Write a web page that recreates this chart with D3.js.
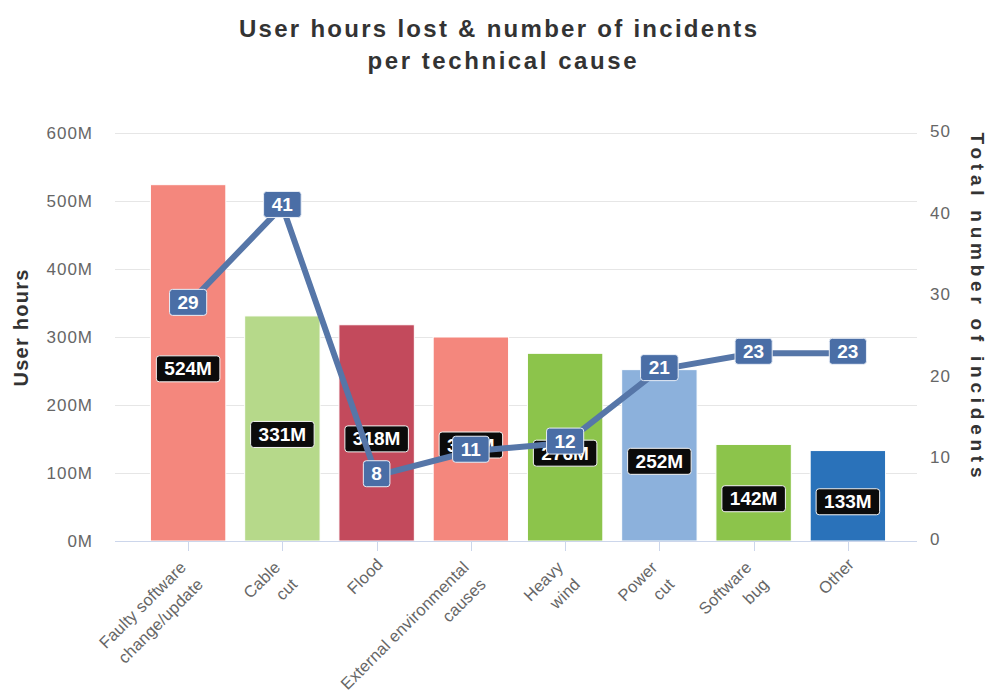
<!DOCTYPE html>
<html>
<head>
<meta charset="utf-8">
<script src="https://cdn.jsdelivr.net/npm/d3@7/dist/d3.min.js"></script>
<style>
  html, body { margin: 0; padding: 0; background: #ffffff; }
  svg { display: block; font-family: "Liberation Sans", Arial, Helvetica, sans-serif; }
</style>
</head>
<body>
<svg id="chart" width="989" height="695"></svg>
<script>
// Technical causes, one array entry per bar (label lines for the x axis)
const categories = [
  ["Faulty software", "change/update"],
  ["Cable", "cut"],
  ["Flood"],
  ["External environmental", "causes"],
  ["Heavy", "wind"],
  ["Power", "cut"],
  ["Software", "bug"],
  ["Other"]
];
// User hours lost, in millions
const userHours = [524, 331, 318, 300, 276, 252, 142, 133];
// Total number of incidents
const incidents = [29, 41, 8, 11, 12, 21, 23, 23];
// Bar fills
const barColors = ["#f4877d", "#b6d98a", "#c34a5c", "#f4877d", "#8cc44b", "#8cb1dc", "#8cc44b", "#2a72ba"];
// Axis ticks
const leftTicks = [0, 100, 200, 300, 400, 500, 600];
const rightTicks = [0, 10, 20, 30, 40, 50];

const svg = d3.select("#chart");

const plot = { left: 115, right: 917, top: 133, bottom: 541 };
const band = { left: 141, right: 895 };

const x = d3.scaleBand()
  .domain(d3.range(categories.length))
  .range([band.left, band.right])
  .paddingInner(0.2)
  .paddingOuter(0.1);

const yLeft = d3.scaleLinear().domain([0, 600]).range([plot.bottom, plot.top]);
const yRight = d3.scaleLinear().domain([0, 50]).range([plot.bottom, plot.top]);

// Title
const title = svg.append("g").attr("fill", "#333333").attr("font-weight", "bold").attr("font-size", 24);
title.append("text").attr("x", 498).attr("y", 37).attr("text-anchor", "middle")
  .attr("textLength", 518).attr("lengthAdjust", "spacing")
  .text("User hours lost & number of incidents");
title.append("text").attr("x", 502).attr("y", 69).attr("text-anchor", "middle")
  .attr("textLength", 269).attr("lengthAdjust", "spacing")
  .text("per technical cause");

// Horizontal grid lines
svg.append("g")
  .selectAll("line")
  .data(leftTicks.filter(d => d > 0))
  .join("line")
  .attr("x1", plot.left).attr("x2", plot.right)
  .attr("y1", d => yLeft(d) + 0.5).attr("y2", d => yLeft(d) + 0.5)
  .attr("stroke", "#e6e6e6").attr("stroke-width", 1);

// Left axis
const leftAxis = d3.axisLeft(yLeft)
  .tickValues(leftTicks)
  .tickSize(0)
  .tickPadding(0)
  .tickFormat(d => d + "M");
const gLeft = svg.append("g").attr("transform", "translate(93,0)").call(leftAxis);
gLeft.select(".domain").remove();
gLeft.selectAll("text")
  .attr("font-family", "\"Liberation Sans\", Arial, sans-serif")
  .attr("font-size", 17).attr("fill", "#666666")
  .attr("letter-spacing", 1).attr("dy", "0.35em");

// Right axis
const rightAxis = d3.axisRight(yRight)
  .tickValues(rightTicks)
  .tickSize(0)
  .tickPadding(0);
const gRight = svg.append("g").attr("transform", "translate(930,0)").call(rightAxis);
gRight.select(".domain").remove();
gRight.selectAll("text")
  .attr("font-family", "\"Liberation Sans\", Arial, sans-serif")
  .attr("font-size", 17).attr("fill", "#666666")
  .attr("letter-spacing", 1).attr("dy", "0.2em");

// Axis titles
svg.append("text")
  .attr("transform", "translate(28,328) rotate(-90)")
  .attr("text-anchor", "middle")
  .attr("font-size", 20).attr("font-weight", "bold").attr("fill", "#333333")
  .attr("textLength", 117).attr("lengthAdjust", "spacing")
  .text("User hours");
svg.append("text")
  .attr("transform", "translate(971,305) rotate(90)")
  .attr("text-anchor", "middle")
  .attr("font-size", 19).attr("font-weight", "bold").attr("fill", "#333333")
  .attr("textLength", 345).attr("lengthAdjust", "spacing")
  .text("Total number of incidents");

// Bars
svg.append("g")
  .selectAll("rect")
  .data(userHours)
  .join("rect")
  .attr("x", (d, i) => x(i))
  .attr("width", x.bandwidth())
  .attr("y", d => yLeft(d))
  .attr("height", d => yLeft(0) - yLeft(d))
  .attr("fill", (d, i) => barColors[i])
  .attr("stroke", "#ffffff").attr("stroke-width", 1);

// X axis baseline and ticks
svg.append("line")
  .attr("x1", plot.left).attr("x2", plot.right)
  .attr("y1", plot.bottom + 0.5).attr("y2", plot.bottom + 0.5)
  .attr("stroke", "#ccd6eb").attr("stroke-width", 1);
svg.append("g")
  .selectAll("line")
  .data(categories)
  .join("line")
  .attr("x1", (d, i) => Math.round(x(i) + x.bandwidth() / 2) + 0.5)
  .attr("x2", (d, i) => Math.round(x(i) + x.bandwidth() / 2) + 0.5)
  .attr("y1", plot.bottom).attr("y2", plot.bottom + 10)
  .attr("stroke", "#ccd6eb").attr("stroke-width", 1);

// Rotated category labels
const xLabels = svg.append("g")
  .attr("font-size", 16.5).attr("fill", "#666666").attr("letter-spacing", 0.2);
categories.forEach((lines, i) => {
  const cx = x(i) + x.bandwidth() / 2;
  const g = xLabels.append("g")
    .attr("transform", `translate(${cx},${plot.bottom}) rotate(-45)`);
  const multi = lines.length > 1;
  lines.forEach((line, k) => {
    g.append("text")
      .attr("text-anchor", "end")
      .attr("dominant-baseline", "central")
      .attr("x", multi ? -20 : -12)
      .attr("y", multi ? 12.7 + 24 * k : 16.3)
      .text(line);
  });
});

// Labelled box helper
function labelBox(parent, cx, cy, text, fill, stroke) {
  const g = parent.append("g");
  const t = g.append("text")
    .attr("x", cx).attr("y", cy)
    .attr("text-anchor", "middle")
    .attr("dominant-baseline", "central")
    .attr("font-size", 19).attr("font-weight", "bold")
    .attr("fill", "#ffffff")
    .text(text);
  const bb = t.node().getBBox();
  g.insert("rect", "text")
    .attr("x", cx - bb.width / 2 - 8)
    .attr("y", cy - 13)
    .attr("width", bb.width + 16)
    .attr("height", 26)
    .attr("rx", 3).attr("ry", 3)
    .attr("fill", fill)
    .attr("stroke", stroke).attr("stroke-width", 1);
}

// Bar value labels
const barLabels = svg.append("g");
userHours.forEach((v, i) => {
  const cx = x(i) + x.bandwidth() / 2;
  const cy = (yLeft(v) + yLeft(0)) / 2 + 6;
  labelBox(barLabels, cx, cy, v + "M", "#0b0b0b", "#f3f3f3");
});

// Incidents line
const line = d3.line()
  .x((d, i) => x(i) + x.bandwidth() / 2)
  .y(d => yRight(d));
svg.append("path")
  .datum(incidents)
  .attr("d", line)
  .attr("fill", "none")
  .attr("stroke", "#5676a8")
  .attr("stroke-width", 6)
  .attr("stroke-linejoin", "round");

// Incident value labels
const lineLabels = svg.append("g");
incidents.forEach((v, i) => {
  const cx = x(i) + x.bandwidth() / 2;
  labelBox(lineLabels, cx, yRight(v) - 2, String(v), "#4a6ea6", "#e8eef7");
});
</script>
</body>
</html>
